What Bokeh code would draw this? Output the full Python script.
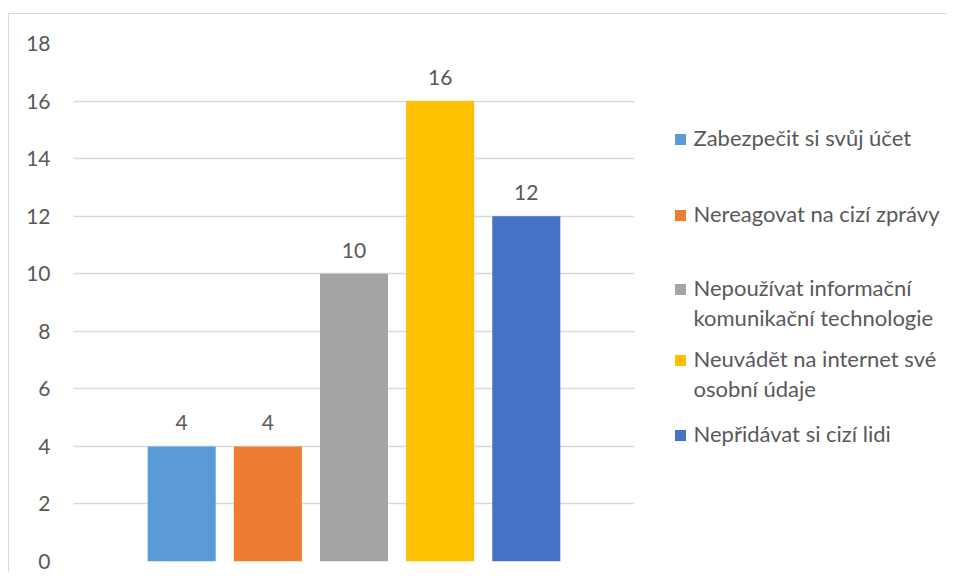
from bokeh.plotting import figure
from bokeh.layouts import row
from bokeh.models import Range1d, FactorRange, FixedTicker, ColumnDataSource
from bokeh.embed import file_html
from bokeh.resources import INLINE
from bokeh.core.properties import value

# ---- data ----
categories = [
    "Zabezpečit si svůj účet",
    "Nereagovat na cizí zprávy",
    "Nepoužívat informační\nkomunikační technologie",
    "Neuvádět na internet své\nosobní údaje",
    "Nepřidávat si cizí lidi",
]
values = [4, 4, 10, 16, 12]
y_ticks = [0, 2, 4, 6, 8, 10, 12, 14, 16, 18]
colors = ["#5B9BD5", "#ED7D31", "#A5A5A5", "#FFC000", "#4472C4"]

FONT = "Lato"
TXT = "#595959"
GRID = "#D9D9D9"

factors = [c.replace("\n", " ") for c in categories]

src = ColumnDataSource(dict(
    x=factors,
    top=values,
    color=colors,
    label=[str(v) for v in values],
))

H = 558
BT, BB = 29, 11

p = figure(
    width=637, height=H,
    x_range=FactorRange(factors=factors, range_padding=0.756, range_padding_units="absolute"),
    y_range=Range1d(0, 18),
    output_backend="svg", toolbar_location=None,
    min_border_left=64, min_border_right=12, min_border_top=BT, min_border_bottom=BB,
)
p.vbar(x="x", top="top", width=0.79, color="color", line_color=None, source=src)
p.text(x="x", y="top", text="label", source=src, text_align="center", text_baseline="bottom",
       y_offset=-16, text_font=value(FONT), text_font_size="21px", text_color=TXT)

p.xaxis.visible = False
p.xgrid.visible = False
p.outline_line_color = None
p.yaxis.ticker = FixedTicker(ticks=y_ticks)
p.yaxis.axis_line_color = None
p.yaxis.major_tick_line_color = None
p.yaxis.minor_tick_line_color = None
p.yaxis.major_tick_out = 0
p.yaxis.major_label_standoff = 23
p.yaxis.major_label_text_font = FONT
p.yaxis.major_label_text_font_size = "21px"
p.yaxis.major_label_text_color = TXT
p.ygrid.grid_line_color = GRID
p.ygrid.grid_line_width = 1.5
p.background_fill_color = "white"
p.border_fill_color = "white"

# ---- legend panel (coordinates in panel pixels, y downward) ----
leg_w = 301
leg = figure(
    width=leg_w, height=H,
    x_range=Range1d(0, leg_w), y_range=Range1d(H - BB, BT),
    output_backend="svg", toolbar_location=None,
    min_border_left=0, min_border_right=0, min_border_top=BT, min_border_bottom=BB,
)
leg.axis.visible = False
leg.grid.visible = False
leg.outline_line_color = None

slot_y = [123, 199, 273, 344, 419]
line_gap = 30
mx, my, mc = [], [], []
tx, ty, tt = [], [], []
for cat, col, y0 in zip(categories, colors, slot_y):
    mx.append(34)
    my.append(y0 + 2)
    mc.append(col)
    for i, line in enumerate(cat.split("\n")):
        tx.append(47)
        ty.append(y0 + i * line_gap)
        tt.append(line)

leg.scatter(x=mx, y=my, marker="square", size=11, color=mc, line_color=None)
leg.text(x=tx, y=ty, text=tt, text_align="left", text_baseline="middle",
         text_font=value(FONT), text_font_size="22px", text_color=TXT)

lay = row(p, leg)
lay.margin = (13, 0, 0, 8)
lay.styles = {"border-left": "1px solid #D9D9D9", "border-top": "1px solid #D9D9D9"}

open("out.html", "w").write(file_html(lay, INLINE))
